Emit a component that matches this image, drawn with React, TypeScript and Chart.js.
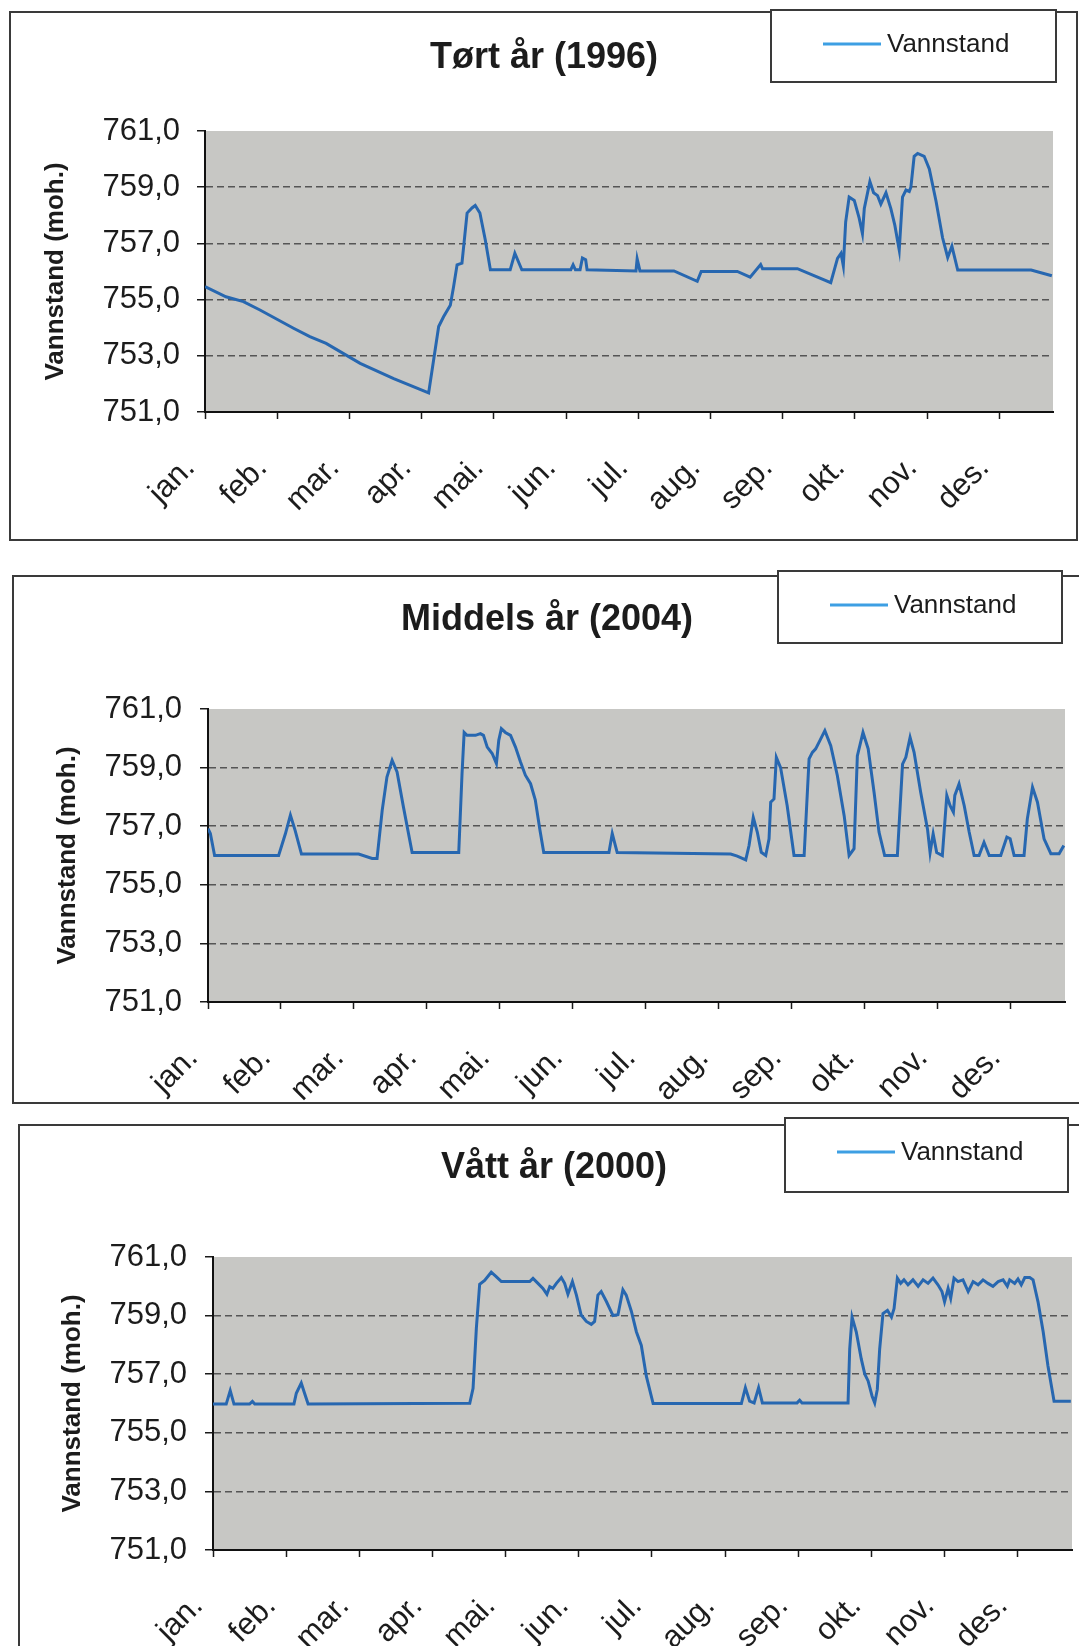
import React, { useEffect, useRef } from "react";
import { Chart, registerables } from "chart.js";

Chart.register(...registerables);

// ---------- data ----------
const MONTHS = ["jan.", "feb.", "mar.", "apr.", "mai.", "jun.", "jul.", "aug.", "sep.", "okt.", "nov.", "des."];
const MONTH_TICKS = [0, 31, 62, 93, 124, 155, 186, 217, 248, 279, 310, 341];
const Y_TICKS = [751, 753, 755, 757, 759, 761];
const SERIES_LABEL = "Vannstand";
const Y_TITLE = "Vannstand (moh.)";

// [day of year, water level (moh.)]
const DRY_1996: [number, number][] = [
  [0, 755.46], [9, 755.1], [16.5, 754.93], [23.6, 754.63], [38, 753.98], [45, 753.68], [52, 753.44],
  [66.6, 752.73], [81, 752.19], [96, 751.68], [100.3, 754.04], [102.4, 754.39], [105.3, 754.8],
  [106.7, 755.46], [108.2, 756.24], [110.3, 756.3], [112.5, 758.08], [114.6, 758.26], [116, 758.35],
  [118, 758.08], [120.3, 757.13], [122.5, 756.06], [131, 756.06], [133, 756.65], [136, 756.06],
  [157, 756.06], [158, 756.24], [159, 756.06], [161, 756.06], [162, 756.48], [163.4, 756.42], [164, 756.06],
  [185, 756.02], [185.5, 756.45], [186.7, 756.02], [201.3, 756.02], [211.3, 755.65], [213, 756.0],
  [228.5, 756.0], [234, 755.8], [238.5, 756.25], [239.3, 756.1], [254.3, 756.1], [268.6, 755.6],
  [271.5, 756.47], [273, 756.65], [274, 756.2], [275, 757.76], [276.5, 758.65], [278.7, 758.53],
  [280.8, 757.9], [282.2, 757.35], [283, 758.24], [285.4, 759.2], [287, 758.8], [288.7, 758.7],
  [290.1, 758.4], [292.3, 758.8], [294.4, 758.24], [296.1, 757.65], [298, 756.76], [299.4, 758.65],
  [300.9, 758.9], [302.3, 758.85], [303, 759.0], [304.4, 760.1], [305.9, 760.2], [308.7, 760.1],
  [310.9, 759.65], [313.8, 758.5], [316.6, 757.2], [318.8, 756.5], [320.6, 756.9], [323.1, 756.05],
  [354.6, 756.05], [363.5, 755.85],
];

const MID_2004: [number, number][] = [
  [0, 756.92], [1, 756.75], [2.8, 756.0], [30, 756.0], [32.9, 756.75], [35, 757.38], [37, 756.86],
  [39.7, 756.05], [64, 756.05], [69.7, 755.9], [71.8, 755.9], [74, 757.55], [76, 758.68], [78.2, 759.25],
  [80.3, 758.85], [83, 757.66], [86.7, 756.1], [106.5, 756.1], [107.9, 758.8], [108.8, 760.2],
  [110, 760.1], [113.6, 760.1], [115.7, 760.16], [117, 760.1], [118.6, 759.7], [120.7, 759.48],
  [122.5, 759.14], [123.5, 759.93], [124.6, 760.33], [126.3, 760.2], [128.5, 760.1], [130.6, 759.7],
  [132.7, 759.2], [134.8, 758.74], [137, 758.45], [139, 757.9], [141, 756.86], [142.6, 756.1],
  [170.3, 756.1], [171.7, 756.75], [173.8, 756.1], [222, 756.05], [224.8, 755.98], [228.4, 755.85],
  [229.8, 756.34], [231.6, 757.3], [233.3, 756.8], [235, 756.11], [236.9, 756.0], [238.3, 756.57],
  [239, 757.82], [240.4, 757.93], [241.4, 759.35], [243.2, 759.0], [246, 757.7], [248.9, 756.0],
  [253.2, 756.0], [255.3, 759.3], [256.7, 759.52], [258.1, 759.64], [259.5, 759.86], [262, 760.26],
  [264.5, 759.75], [267.3, 758.73], [270.2, 757.36], [272.3, 756.0], [274.4, 756.23], [275.8, 759.4],
  [278.2, 760.2], [280.4, 759.64], [282.9, 758.16], [285, 756.8], [287.4, 756.0], [292.8, 756.0],
  [295, 759.12], [296.4, 759.35], [298.2, 760.03], [299.9, 759.52], [302.7, 758.16], [305.6, 756.9],
  [306.7, 756.1], [308, 756.74], [309.5, 756.1], [311.9, 756.0], [313.8, 758.05], [315.2, 757.7],
  [316.6, 757.48], [317.2, 758.05], [319, 758.44], [321.2, 757.7], [323.3, 756.8], [325.4, 756.0],
  [327.5, 756.0], [329.6, 756.45], [331.8, 756.0], [336.7, 756.0], [339.3, 756.63], [340.7, 756.57],
  [342.4, 756.0], [346.6, 756.0], [348, 757.25], [350.2, 758.33], [352.3, 757.82], [355.1, 756.57],
  [358, 756.06], [361.5, 756.06], [363.5, 756.34],
];

const WET_2000: [number, number][] = [
  [0, 755.98], [5.6, 755.98], [7.3, 756.44], [8.9, 755.98], [15.5, 755.98], [16.7, 756.07], [17.7, 755.98],
  [34.3, 755.98], [35.3, 756.35], [37.4, 756.7], [38.8, 756.35], [40.3, 755.98], [108.8, 756.01],
  [110.2, 756.52], [111.6, 758.57], [113, 760.07], [115.1, 760.2], [117.9, 760.48], [120, 760.33],
  [122.2, 760.16], [134.2, 760.16], [135.6, 760.27], [137.7, 760.1], [139.8, 759.93], [141.5, 759.73],
  [142.7, 759.99], [144, 759.93], [145.5, 760.1], [147.6, 760.3], [149, 760.1], [150.4, 759.73],
  [152.3, 760.16], [154, 759.7], [156, 759.02], [158.2, 758.8], [160.3, 758.7], [161.7, 758.8],
  [163.1, 759.7], [164.5, 759.82], [166.7, 759.48], [169.5, 759.0], [171.6, 759.03], [173.7, 759.88],
  [175.1, 759.7], [177.3, 759.14], [179.4, 758.45], [181.5, 757.98], [183.6, 756.94], [186.5, 756.0],
  [223.9, 756.0], [225.6, 756.54], [227.4, 756.08], [229.3, 756.02], [231.2, 756.54], [232.8, 756.02],
  [247.5, 756.02], [248.6, 756.11], [249.6, 756.02], [269.1, 756.02], [269.8, 757.86], [270.8, 758.95],
  [272.6, 758.44], [274.7, 757.52], [276.2, 757.0], [277.6, 756.77], [279.3, 756.25], [280.4, 756.02],
  [281.5, 756.48], [282.5, 757.86], [283.9, 759.07], [285.8, 759.18], [287.5, 758.95], [288.6, 759.24],
  [290, 760.28], [291.4, 760.1], [292.8, 760.22], [294.5, 760.05], [296.6, 760.22], [298.8, 760.0],
  [300.9, 760.22], [303, 760.1], [305.1, 760.28], [307.2, 760.05], [308.9, 759.82], [310, 759.47],
  [311.5, 759.93], [312.6, 759.59], [314, 760.28], [315.7, 760.16], [317.8, 760.22], [320, 759.82],
  [322.1, 760.16], [324.2, 760.05], [326.3, 760.22], [328.4, 760.1], [330.5, 760.0], [332.7, 760.16],
  [334.8, 760.22], [336.6, 760.0], [337.6, 760.22], [339.7, 760.1], [341.1, 760.25], [342.5, 760.05],
  [344, 760.3], [346.1, 760.3], [347.5, 760.22], [349.6, 759.47], [351.8, 758.44], [353.8, 757.29],
  [356.4, 756.08], [363.5, 756.08],
];

// ---------- layout (canvas-local pixel positions) ----------
const FONT = "'Liberation Sans', Arial, sans-serif";
const TITLE_SIZE = 36;
const LINE_COLOR = "#2767b0";
const LEGEND_LINE_COLOR = "#3d9fe3";
const PLOT_BG = "#c7c7c4";

type Rect = { l: number; t: number; r: number; b: number };
type PanelCfg = {
  title: string;
  data: [number, number][];
  bandTop: number;
  bandH: number;
  box: Rect;
  plot: Rect;
  legend: Rect;
  titleX: number;
  titleY: number;
  yTitleX: number;
  labelRight: number;
};

const PANELS: PanelCfg[] = [
  {
    title: "Tørt år (1996)", data: DRY_1996, bandTop: 0, bandH: 548,
    box: { l: 10, t: 12, r: 1077, b: 540 }, plot: { l: 205, t: 131, r: 1053, b: 412 },
    legend: { l: 771, t: 10, r: 1056, b: 82 }, titleX: 544, titleY: 58, yTitleX: 56, labelRight: 180,
  },
  {
    title: "Middels år (2004)", data: MID_2004, bandTop: 548, bandH: 562,
    box: { l: 13, t: 28, r: 1090, b: 555 }, plot: { l: 208, t: 161, r: 1065, b: 454 },
    legend: { l: 778, t: 23, r: 1062, b: 95 }, titleX: 547, titleY: 72, yTitleX: 68, labelRight: 182,
  },
  {
    title: "Vått år (2000)", data: WET_2000, bandTop: 1110, bandH: 536,
    box: { l: 19, t: 15, r: 1095, b: 580 }, plot: { l: 213, t: 147, r: 1072, b: 440 },
    legend: { l: 785, t: 8, r: 1068, b: 82 }, titleX: 554, titleY: 58, yTitleX: 73, labelRight: 187,
  },
];

const panelPlugin = {
  id: "panel",
  beforeDraw(chart: any, _args: any, opts: any) {
    const { ctx, chartArea: a } = chart;
    ctx.save();
    ctx.fillStyle = "#ffffff";
    ctx.fillRect(0, 0, chart.width, chart.height);
    const b: Rect = opts.box;
    ctx.strokeStyle = "#3a3a3a";
    ctx.lineWidth = 2;
    ctx.strokeRect(b.l, b.t, b.r - b.l, b.b - b.t);
    ctx.fillStyle = PLOT_BG;
    ctx.fillRect(a.left, a.top, a.right - a.left, a.bottom - a.top);
    ctx.restore();
  },
  afterDraw(chart: any, _args: any, opts: any) {
    const { ctx } = chart;
    const L: Rect = opts.legend;
    ctx.save();
    ctx.fillStyle = "#ffffff";
    ctx.fillRect(L.l, L.t, L.r - L.l, L.b - L.t);
    ctx.strokeStyle = "#3a3a3a";
    ctx.lineWidth = 2;
    ctx.strokeRect(L.l, L.t, L.r - L.l, L.b - L.t);
    const cy = L.t + 34;
    ctx.strokeStyle = LEGEND_LINE_COLOR;
    ctx.lineWidth = 3;
    ctx.beginPath();
    ctx.moveTo(L.l + 52, cy);
    ctx.lineTo(L.l + 110, cy);
    ctx.stroke();
    ctx.fillStyle = "#1c1c1c";
    ctx.font = `26px ${FONT}`;
    ctx.textBaseline = "middle";
    ctx.textAlign = "left";
    ctx.fillText(chart.data.datasets[0].label, L.l + 116, cy + 1);
    ctx.restore();
  },
};

function Panel({ p }: { p: PanelCfg }) {
  const ref = useRef<HTMLCanvasElement | null>(null);
  useEffect(() => {
    if (!ref.current) return;
    const lh = TITLE_SIZE * 1.2;
    const padR = 1079 - p.plot.r;
    const padL = 2 * p.titleX - 1079 + padR;
    const chart = new Chart(ref.current, {
      type: "line",
      data: {
        datasets: [
          {
            label: SERIES_LABEL,
            data: p.data.map(([x, y]) => ({ x, y })),
            borderColor: LINE_COLOR,
            borderWidth: 3,
            pointRadius: 0,
            tension: 0,
            fill: false,
          },
        ],
      },
      options: {
        responsive: false,
        animation: false,
        devicePixelRatio: 1,
        layout: { padding: { left: padL, right: padR, top: 0, bottom: 0 } },
        plugins: {
          legend: { display: false },
          tooltip: { enabled: false },
          title: {
            display: true,
            text: p.title,
            color: "#1c1c1c",
            font: { family: FONT, size: TITLE_SIZE, weight: "bold" },
            padding: { top: p.titleY - lh / 2, bottom: p.plot.t - (p.titleY + lh / 2) },
          },
          panel: { box: p.box, legend: p.legend },
        } as any,
        scales: {
          x: {
            type: "linear",
            min: 0,
            max: 364,
            afterBuildTicks: (s: any) => {
              s.ticks = MONTH_TICKS.map((v) => ({ value: v }));
            },
            afterFit: (s: any) => {
              s.height = p.bandH - p.plot.b;
            },
            grid: { drawOnChartArea: false, drawTicks: true, tickLength: 7, tickColor: "#1a1a1a", tickWidth: 1.5 },
            border: { color: "#111111", width: 2 },
            ticks: {
              autoSkip: false,
              minRotation: 45,
              maxRotation: 45,
              padding: 31,
              labelOffset: -15,
              color: "#1c1c1c",
              font: { family: FONT, size: 31 },
              callback: (_v: any, i: number) => MONTHS[i],
            },
          },
          y: {
            type: "linear",
            min: 751,
            max: 761,
            afterBuildTicks: (s: any) => {
              s.ticks = Y_TICKS.map((v) => ({ value: v }));
            },
            afterFit: (s: any) => {
              s.width = p.plot.l - padL;
            },
            grid: {
              color: (c: any) =>
                c.tick && (c.tick.value === 751 || c.tick.value === 761) ? "rgba(0,0,0,0)" : "#555555",
              lineWidth: 1.5,
              drawTicks: true,
              tickLength: 8,
              tickColor: "#1a1a1a",
              tickWidth: 1.5,
            },
            border: { color: "#111111", width: 2, dash: [7, 4] },
            ticks: {
              padding: p.plot.l - p.labelRight - 8,
              color: "#1c1c1c",
              font: { family: FONT, size: 31 },
              callback: (v: any) => Number(v).toFixed(1).replace(".", ","),
            },
            title: {
              display: true,
              text: Y_TITLE,
              color: "#1c1c1c",
              font: { family: FONT, size: 26, weight: "bold" },
              padding: { top: Math.max(0, p.yTitleX - padL - 15.6), bottom: 0 },
            },
          },
        },
      } as any,
      plugins: [panelPlugin],
    });
    return () => chart.destroy();
  }, [p]);
  return (
    <div style={{ position: "absolute", left: 0, top: p.bandTop, width: 1079, height: p.bandH }}>
      <canvas ref={ref} width={1079} height={p.bandH} style={{ display: "block", width: 1079, height: p.bandH }} />
    </div>
  );
}

export default function App() {
  return (
    <div
      style={{
        position: "absolute",
        left: 0,
        top: 0,
        width: 1079,
        height: 1646,
        overflow: "hidden",
        background: "#ffffff",
      }}
    >
      {PANELS.map((p) => (
        <Panel key={p.title} p={p} />
      ))}
    </div>
  );
}
